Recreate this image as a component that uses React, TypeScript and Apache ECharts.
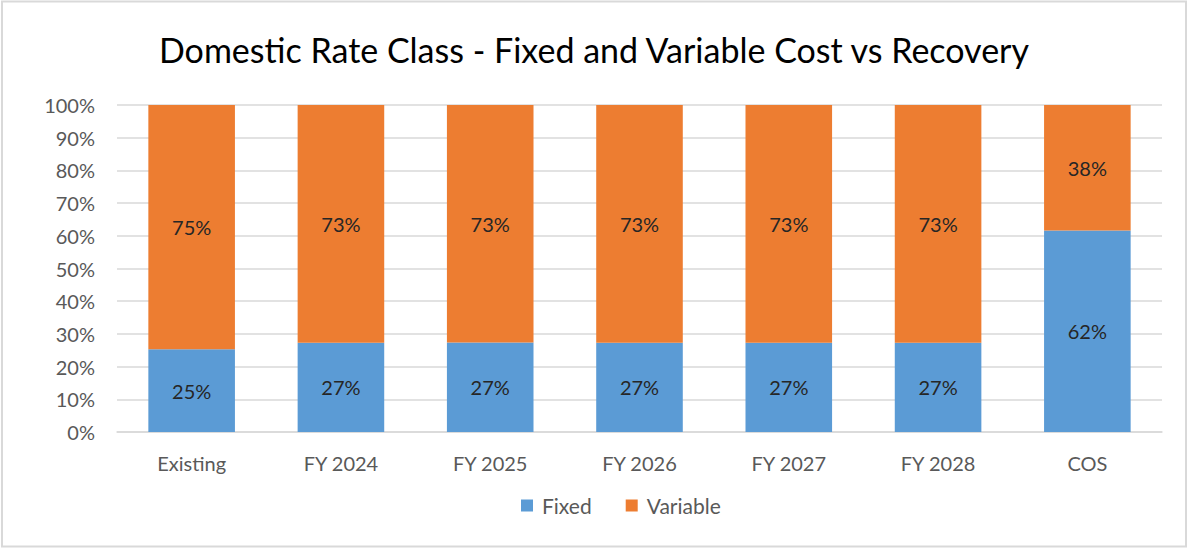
import React, { useEffect, useRef } from "react";
import * as echarts from "echarts";

const categories = ["Existing", "FY 2024", "FY 2025", "FY 2026", "FY 2027", "FY 2028", "COS"];
const fixedShare = [25.3, 27.3, 27.4, 27.3, 27.3, 27.3, 61.6];
const variableShare = [74.7, 72.7, 72.6, 72.7, 72.7, 72.7, 38.4];
const titleText = "Domestic Rate Class - Fixed and Variable Cost vs Recovery";

const FONT = "Lato, 'Open Sans', sans-serif";

export default function App() {
  const ref = useRef<HTMLDivElement>(null);
  useEffect(() => {
    document.body.style.margin = "0";
    const chart = echarts.init(ref.current!, undefined, { renderer: "svg" });
    const label = {
      show: true,
      position: "inside",
      fontFamily: FONT,
      fontSize: 20,
      color: "#262626",
      formatter: (p: any) => Math.round(p.value) + "%",
    };
    chart.setOption({
      animation: false,
      backgroundColor: "#ffffff",
      textStyle: { fontFamily: FONT },
      title: {
        text: titleText,
        left: "center",
        top: 27,
        textStyle: { fontFamily: FONT, fontSize: 34, fontWeight: "normal", color: "#000000" },
      },
      legend: {
        top: 490,
        left: 516,
        itemWidth: 12,
        itemHeight: 12,
        itemGap: 34,
        icon: "rect",
        textStyle: { fontFamily: FONT, fontSize: 21, color: "#595959", padding: [0, 0, 0, 4] },
        data: ["Fixed", "Variable"],
      },
      grid: { left: 117, right: 26, top: 105, bottom: 116, containLabel: false },
      xAxis: {
        type: "category",
        data: categories,
        axisLine: { lineStyle: { color: "#D9D9D9", width: 1.5 } },
        axisTick: { show: false },
        axisLabel: { fontFamily: FONT, fontSize: 20, color: "#595959", margin: 21 },
      },
      yAxis: {
        type: "value",
        min: 0,
        max: 100,
        interval: 10,
        axisLine: { show: false },
        axisTick: { show: false },
        splitLine: { lineStyle: { color: "#D9D9D9", width: 1.5 } },
        axisLabel: { fontFamily: FONT, fontSize: 20, color: "#595959", margin: 22, formatter: "{value}%" },
      },
      series: [
        {
          name: "Fixed",
          type: "bar",
          stack: "total",
          data: fixedShare,
          barWidth: "58%",
          itemStyle: { color: "#5B9BD5" },
          label,
        },
        {
          name: "Variable",
          type: "bar",
          stack: "total",
          data: variableShare,
          barWidth: "58%",
          itemStyle: { color: "#ED7D31" },
          label,
        },
      ],
      graphic: [
        {
          type: "rect",
          shape: { x: 2, y: 1.5, width: 1184, height: 545 },
          style: { fill: "none", stroke: "#D9D9D9", lineWidth: 2 },
          silent: true,
        },
      ],
    });
    return () => chart.dispose();
  }, []);
  return <div ref={ref} style={{ width: 1188, height: 548 }} />;
}
